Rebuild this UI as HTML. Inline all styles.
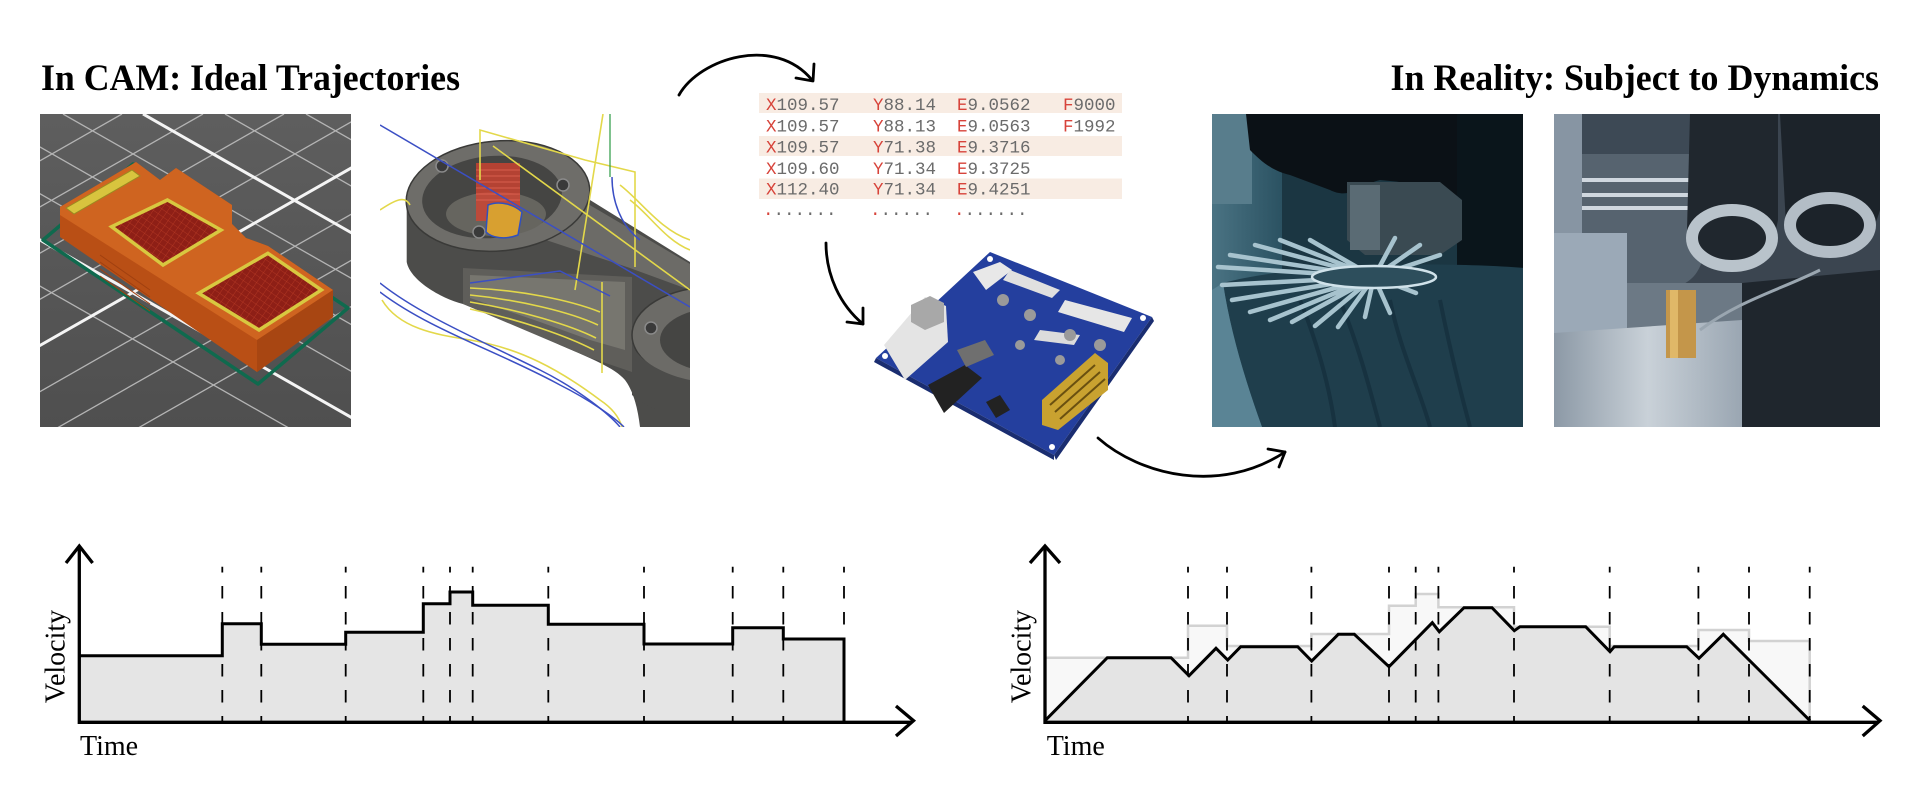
<!DOCTYPE html>
<html><head><meta charset="utf-8"><style>html,body{margin:0;padding:0;background:#fff}svg{display:block}</style></head>
<body>
<svg width="1920" height="801" viewBox="0 0 1920 801" xmlns="http://www.w3.org/2000/svg">
<defs>
<clipPath id="c1"><rect x="40" y="114" width="311" height="313"/></clipPath>
<clipPath id="c2"><rect x="380" y="114" width="310" height="313"/></clipPath>
<clipPath id="c3"><rect x="1212" y="114" width="311" height="313"/></clipPath>
<clipPath id="c4"><rect x="1554" y="114" width="326" height="313"/></clipPath>
<linearGradient id="g1" x1="0" y1="0" x2="0" y2="1"><stop offset="0" stop-color="#5e5e5e"/><stop offset="1" stop-color="#4f4f4f"/></linearGradient>
<linearGradient id="g3" x1="0" y1="0" x2="1" y2="0"><stop offset="0" stop-color="#4a7383"/><stop offset="1" stop-color="#2b5262"/></linearGradient>
<linearGradient id="g4" x1="0" y1="0" x2="1" y2="0"><stop offset="0" stop-color="#8c99a6"/><stop offset="0.5" stop-color="#c9d1d8"/><stop offset="1" stop-color="#9aa6b2"/></linearGradient>
<pattern id="hatch" width="6" height="6" patternUnits="userSpaceOnUse" patternTransform="rotate(35)"><rect width="6" height="6" fill="#8e1f16"/><path d="M0,0H6M0,0V6" stroke="#b83a25" stroke-width="0.8"/></pattern>
</defs>
<rect width="1920" height="801" fill="#fff"/>

<!-- Titles -->
<text x="41" y="90" font-family="Liberation Serif, serif" font-weight="bold" font-size="37.5" textLength="419" lengthAdjust="spacingAndGlyphs" fill="#000">In CAM: Ideal Trajectories</text>
<text x="1390.5" y="90" font-family="Liberation Serif, serif" font-weight="bold" font-size="37.5" textLength="488.5" lengthAdjust="spacingAndGlyphs" fill="#000">In Reality: Subject to Dynamics</text>

<!-- Photo 1: slicer -->
<g clip-path="url(#c1)">
<rect x="40" y="114" width="311" height="313" fill="url(#g1)"/>
<g stroke="#b4b4b4" stroke-width="1.3" fill="none">
<path d="M-262,114l600,342M-18,114l600,342M63,114l600,342M225,114l600,342M306,114l600,342M-100,114l600,342"/>
<path d="M122,114l-600,342M203,114l-600,342M284,114l-600,342M365,114l-600,342M527,114l-600,342M608,114l-600,342M689,114l-600,342"/>
</g>
<g stroke="#f4f4f4" stroke-width="3" fill="none">
<path d="M143,114l600,342M-181,114l600,342M446,114l-600,342"/>
</g>
<polygon points="43,240 133,164 348,308 258,384" fill="none" stroke="#0f6a4e" stroke-width="3.5" stroke-linejoin="round"/>
<polygon points="60,207 136,162 160,180 176,168 232,205 232,224 246,238 268,246 333,290 333,317 257,372 60,237" fill="#b94f15"/>
<polygon points="60,207 136,162 160,180 176,168 232,205 232,224 246,238 268,246 333,290 257,340 60,215" fill="#cf6420"/>
<polygon points="257,340 333,290 333,317 257,372" fill="#a84612"/>
<polygon points="66,208 132,170 140,176 74,214" fill="#d8c43e" stroke="#9a8a20" stroke-width="1"/>
<polygon points="111.6,226.7 167.4,200 221,230 163,265" fill="url(#hatch)" stroke="#d8c840" stroke-width="3.5"/>
<polygon points="198.7,293.3 267.9,253.3 321.4,290 259,330" fill="url(#hatch)" stroke="#d8c840" stroke-width="3.5"/>
<g stroke="#a04010" stroke-width="1"><path d="M100,255l50,35M100,262l50,35M100,269l50,35M100,276l50,35"/></g>
</g>

<!-- Photo 2: CAM toolpath -->
<g clip-path="url(#c2)">
<rect x="380" y="114" width="310" height="313" fill="#fff"/>
<path d="M406.7,200 L406.7,262 C410,280 440,298 463,304 C500,318 530,330 560,345 C590,358 615,368 625,380 C634,392 638,410 640,427 L690,427 L690,262 L590,200 Z" fill="#4c4c4a"/>
<polygon points="463,268 632,277 632,372 588,357 541,337 463,304" fill="#5f5e5a"/>
<polygon points="470,275 625,282 625,350 590,340 540,322 470,298" fill="#77766f"/>
<polygon points="540,238 588,204 690,264 690,290 630,268" fill="#6c6b67"/>
<ellipse cx="498" cy="196" rx="92" ry="55" transform="rotate(-5 498 196)" fill="#6e6d69" stroke="#3a3a38" stroke-width="1.5"/>
<ellipse cx="492" cy="197" rx="70" ry="41" transform="rotate(-5 492 197)" fill="#454543"/>
<ellipse cx="496" cy="214" rx="50" ry="22" fill="#66655f"/>
<ellipse cx="712" cy="335" rx="80" ry="48" fill="#6c6b67" stroke="#3a3a38" stroke-width="1.5"/>
<ellipse cx="718" cy="340" rx="58" ry="32" fill="#454543"/>
<path d="M632,345 L632,395 C650,410 670,415 690,418 L690,380 C665,375 640,362 632,345Z" fill="#4c4c4a"/>
<circle cx="442" cy="166" r="6" fill="#3a3a3a" stroke="#8a8a8a" stroke-width="1.5"/>
<circle cx="563" cy="185" r="6" fill="#3a3a3a" stroke="#8a8a8a" stroke-width="1.5"/>
<circle cx="479" cy="232" r="6" fill="#3a3a3a" stroke="#8a8a8a" stroke-width="1.5"/>
<circle cx="651" cy="328" r="6" fill="#3a3a3a" stroke="#8a8a8a" stroke-width="1.5"/>
<rect x="476" y="163" width="44" height="58" fill="#d9412d" opacity="0.75"/>
<g stroke="#f07060" stroke-width="0.8" opacity="0.8"><path d="M476,170h44M476,176h44M476,182h44M476,188h44M476,194h44M476,200h44"/></g>
<path d="M488,205 C500,200 515,205 522,212 L518,235 C505,240 492,238 486,232Z" fill="#d8a030" stroke="#3050c0" stroke-width="1.5"/>
<g fill="none" stroke="#e3d84a" stroke-width="1.6">
<path d="M480,180 V130 L585,160 L635,172 V267"/>
<path d="M493,146 L690,290"/>
<path d="M603,114 L575,290"/>
<path d="M602,282 V373"/>
<path d="M380,210 C395,200 405,195 410,205"/>
<path d="M470,288 C520,290 570,300 600,312 M470,295 C520,300 570,312 598,325 M470,302 C520,310 570,325 596,338 M470,309 C520,320 565,335 594,350"/>
<path d="M620,185 C640,200 660,230 690,240 M630,200 C650,215 665,240 690,250"/>
<path d="M382,300 C400,330 440,335 470,340 C520,348 560,370 600,400 C615,410 620,420 622,427"/>
</g>
<g fill="none" stroke="#3b4fc4" stroke-width="1.5">
<path d="M380,125 L690,307"/>
<path d="M380,283 C420,315 480,340 540,370 C580,390 610,415 620,427"/>
<path d="M380,292 C430,330 500,352 560,385 C590,400 615,418 624,427"/>
<path d="M470,283 L560,271 L610,296"/>
<path d="M612,177 C612,200 620,225 640,240"/>
</g>
<path d="M610,114 V177" stroke="#3aa050" stroke-width="1.3"/>
</g>

<!-- Arrows -->
<g fill="none" stroke="#000" stroke-width="2.8" stroke-linecap="round" stroke-linejoin="round">
<path d="M679,95 C700,58 775,35 812,80"/>
<path d="M796,78 L813,81 L814,64"/>
<path d="M826,243 C826,275 840,305 863,324"/>
<path d="M847,322 L863,324 L863,308"/>
<path d="M1098,438 C1140,475 1220,495 1285,452"/>
<path d="M1268,449 L1285,452 L1279,467"/>
</g>

<!-- G-code table -->
<rect x="759" y="93" width="363" height="20" fill="#f8ece3"/>
<rect x="759" y="136" width="363" height="20" fill="#f8ece3"/>
<rect x="759" y="178.5" width="363" height="20.5" fill="#f8ece3"/>
<g font-family="Liberation Mono, monospace" font-size="17.5" fill="#6b6b6b">
<text x="766" y="110"><tspan fill="#d7433a">X</tspan>109.57</text>
<text x="873" y="110"><tspan fill="#d7433a">Y</tspan>88.14</text>
<text x="957" y="110"><tspan fill="#d7433a">E</tspan>9.0562</text>
<text x="1063" y="110"><tspan fill="#d7433a">F</tspan>9000</text>
<text x="766" y="131.3"><tspan fill="#d7433a">X</tspan>109.57</text>
<text x="873" y="131.3"><tspan fill="#d7433a">Y</tspan>88.13</text>
<text x="957" y="131.3"><tspan fill="#d7433a">E</tspan>9.0563</text>
<text x="1063" y="131.3"><tspan fill="#d7433a">F</tspan>1992</text>
<text x="766" y="152.7"><tspan fill="#d7433a">X</tspan>109.57</text>
<text x="873" y="152.7"><tspan fill="#d7433a">Y</tspan>71.38</text>
<text x="957" y="152.7"><tspan fill="#d7433a">E</tspan>9.3716</text>
<text x="766" y="174"><tspan fill="#d7433a">X</tspan>109.60</text>
<text x="873" y="174"><tspan fill="#d7433a">Y</tspan>71.34</text>
<text x="957" y="174"><tspan fill="#d7433a">E</tspan>9.3725</text>
<text x="766" y="194.3"><tspan fill="#d7433a">X</tspan>112.40</text>
<text x="873" y="194.3"><tspan fill="#d7433a">Y</tspan>71.34</text>
<text x="957" y="194.3"><tspan fill="#d7433a">E</tspan>9.4251</text>
<text x="763" y="215"><tspan fill="#d7433a">.</tspan>......</text>
<text x="870" y="215"><tspan fill="#d7433a">.</tspan>.....</text>
<text x="954" y="215"><tspan fill="#d7433a">.</tspan>......</text>
</g>

<!-- Circuit board -->
<g>
<polygon points="876,358 990,252 1152,317 1054,455" fill="#243f9e"/>
<polygon points="876,358 1054,455 1054,460 874,362" fill="#1a2d70"/>
<polygon points="1054,455 1152,317 1154,321 1056,460" fill="#1a2d70"/>
<polygon points="884,345 925,297 946,306 948,342 905,380" fill="#e4e4e4"/>
<polygon points="911,305 930,296 944,303 944,322 925,330 911,322" fill="#a8a8a8"/>
<polygon points="973,272 1000,262 1012,270 986,290" fill="#e8e8e8"/>
<polygon points="1010,270 1060,290 1052,298 1003,280" fill="#e0e0e0"/>
<polygon points="1065,300 1132,318 1124,332 1058,312" fill="#e6e6e6"/>
<polygon points="1040,330 1080,335 1074,345 1034,340" fill="#dcdcdc"/>
<polygon points="1042,400 1095,353 1108,363 1108,390 1058,430 1042,425" fill="#c9a230"/>
<g stroke="#6a5010" stroke-width="2"><path d="M1050,405l45,-40M1055,412l45,-40M1060,419l45,-40"/></g>
<polygon points="928,385 965,365 982,378 944,413" fill="#222"/>
<polygon points="957,350 985,340 994,355 966,367" fill="#6f6f6f"/>
<polygon points="986,402 1000,395 1010,410 996,418" fill="#222"/>
<g fill="#9a9a9a"><circle cx="1003" cy="300" r="6"/><circle cx="1030" cy="315" r="6"/><circle cx="1070" cy="335" r="6"/><circle cx="1100" cy="345" r="6"/><circle cx="1060" cy="360" r="5"/><circle cx="1020" cy="345" r="5"/></g>
<g fill="#fff"><circle cx="885" cy="356" r="3"/><circle cx="990" cy="259" r="3"/><circle cx="1143" cy="318" r="3"/><circle cx="1052" cy="447" r="3"/></g>
</g>

<!-- Photo 3: turbine -->
<g clip-path="url(#c3)">
<rect x="1212" y="114" width="311" height="313" fill="#1b3642"/>
<rect x="1212" y="114" width="70" height="313" fill="url(#g3)"/>
<rect x="1212" y="114" width="40" height="90" fill="#587d8c"/>
<path d="M1246,114 H1524 V200 L1480,215 C1460,220 1450,190 1430,185 L1380,180 C1360,185 1350,200 1330,190 L1290,175 C1270,170 1260,160 1250,150 Z" fill="#0b1116"/>
<rect x="1457" y="114" width="67" height="200" fill="#0a151b"/>
<polygon points="1347,182 1440,182 1462,200 1462,240 1440,255 1365,255 1347,240" fill="#3a4a52"/>
<rect x="1350" y="185" width="30" height="65" fill="#5a6b74"/>
<path d="M1223,283 C1300,262 1450,262 1524,268 V427 H1262 C1245,380 1230,330 1223,283 Z" fill="#1f3e4c"/>
<path d="M1212,290 L1223,283 C1230,330 1245,380 1262,427 H1212 Z" fill="#5a8495"/>
<g stroke="#173240" stroke-width="4" fill="none"><path d="M1300,300 C1320,350 1330,390 1335,427M1340,300 C1360,350 1370,390 1380,427M1390,300 C1400,350 1420,390 1430,427M1440,300 C1450,350 1460,390 1470,427"/></g>
<g stroke="#a7c3ce" stroke-width="4.5" stroke-linecap="round">
<path d="M1374,277 L1218,267M1374,277 L1222,285M1374,277 L1232,300M1374,277 L1250,312M1374,277 L1270,320M1374,277 L1292,322M1374,277 L1315,326M1374,277 L1338,327M1374,277 L1365,317M1374,277 L1390,313M1374,277 L1416,293"/>
<path d="M1374,277 L1230,255M1374,277 L1255,245M1374,277 L1280,240M1374,277 L1310,240M1374,277 L1395,238M1374,277 L1420,245M1374,277 L1440,255"/>
</g>
<ellipse cx="1374" cy="277" rx="62" ry="11" fill="#2d4e5c" stroke="#d0e2ea" stroke-width="2.5"/>
</g>

<!-- Photo 4: milling -->
<g clip-path="url(#c4)">
<rect x="1554" y="114" width="326" height="313" fill="#3b4550"/>
<path d="M1554,114 H1705 V250 C1700,275 1690,287 1660,290 H1620 C1600,288 1590,270 1585,250 L1554,240 Z" fill="#56636f"/>
<rect x="1554" y="114" width="28" height="130" fill="#8795a3"/>
<rect x="1582" y="114" width="120" height="40" fill="#3d4955"/>
<g stroke="#cfd7df" stroke-width="4"><path d="M1582,180H1690M1582,195H1690M1582,208H1690"/></g>
<path d="M1690,114 H1778 V220 C1772,255 1748,270 1722,268 C1702,265 1689,250 1687,230 Z" fill="#20272e"/>
<ellipse cx="1732" cy="238" rx="40" ry="28" fill="none" stroke="#b9c3cb" stroke-width="12"/>
<path d="M1780,114 H1880 V210 C1870,245 1850,258 1825,256 C1805,254 1790,240 1786,225 Z" fill="#1c232a"/>
<ellipse cx="1830" cy="225" rx="40" ry="27" fill="none" stroke="#b3bdc6" stroke-width="12"/>
<rect x="1554" y="233" width="73" height="100" fill="#9ba9b7"/>
<rect x="1627" y="283" width="115" height="45" fill="#6c7985"/>
<polygon points="1554,333 1742,320 1742,427 1554,427" fill="url(#g4)"/>
<polygon points="1742,283 1880,270 1880,427 1742,427" fill="#1f262d"/>
<path d="M1700,330 C1740,300 1780,290 1820,270" stroke="#9aa6b0" stroke-width="3" fill="none"/>
<rect x="1666" y="290" width="30" height="68" fill="#c4964a"/>
<rect x="1670" y="290" width="8" height="68" fill="#e0b868"/>
</g>

<!-- LEFT GRAPH -->
<path d="M79.3,721 V655.7 H222.3 V623.7 H261.3 V644.3 H345.7 V632.3 H423.3 V603.7 H450 V592 H472.7 V605.3 H548.3 V624.3 H644 V644 H732.7 V627.7 H783.3 V639 H844 V721 Z" fill="#e5e5e5"/>
<g stroke="#000" stroke-width="1.8" stroke-dasharray="12.5 13.5" stroke-dashoffset="6.7">
<path d="M222.3,566.7V721M261.3,566.7V721M345.7,566.7V721M423.3,566.7V721M450,566.7V721M472.7,566.7V721M548.3,566.7V721M644,566.7V721M732.7,566.7V721M783.3,566.7V721M844,566.7V721"/>
</g>
<path d="M79.3,655.7 H222.3 V623.7 H261.3 V644.3 H345.7 V632.3 H423.3 V603.7 H450 V592 H472.7 V605.3 H548.3 V624.3 H644 V644 H732.7 V627.7 H783.3 V639 H844 V721" fill="none" stroke="#000" stroke-width="3"/>
<g fill="none" stroke="#000" stroke-width="3.3">
<path d="M79.3,547 V722.3 H912"/>
<path d="M66,563 L79.3,546 L92.6,563"/>
<path d="M896,706 L913.5,720.7 L896,736"/>
</g>
<text transform="translate(64.5,656.5) rotate(-90)" text-anchor="middle" font-family="Liberation Serif, serif" font-size="28" fill="#000">Velocity</text>
<text x="80" y="755" font-family="Liberation Serif, serif" font-size="28" fill="#000">Time</text>

<!-- RIGHT GRAPH -->
<path d="M1045,721 V657.7 H1188 V625.7 H1227 V646 H1311.4 V634 H1389 V605.7 H1415.7 V594 H1438.4 V607.3 H1514 V626.7 H1609.7 V646 H1698.4 V630 H1749 V641 H1809.7 V721 Z" fill="#f8f8f8" stroke="#d2d2d2" stroke-width="2.5"/>
<polygon points="1045,720.7 1107.3,657.7 1171,657.7 1189,675.7 1216,648.3 1227.7,660 1240.7,646.7 1297.7,646.7 1311.7,661 1338.3,634.3 1354.3,634.3 1389,666.7 1432.3,622.7 1439.3,631.7 1464,607.7 1492,607.7 1514.3,630.7 1520,626.7 1585.7,626.7 1610,651.7 1614.3,646.7 1686.7,646.7 1699,658.3 1723.3,634.3 1810,720.7" fill="#e4e4e4"/>
<g stroke="#000" stroke-width="1.8" stroke-dasharray="12.5 13.5" stroke-dashoffset="6.7">
<path d="M1188,566.7V721M1227,566.7V721M1311.4,566.7V721M1389,566.7V721M1415.7,566.7V721M1438.4,566.7V721M1514,566.7V721M1609.7,566.7V721M1698.4,566.7V721M1749,566.7V721M1809.7,566.7V721"/>
</g>
<polyline points="1045,720.7 1107.3,657.7 1171,657.7 1189,675.7 1216,648.3 1227.7,660 1240.7,646.7 1297.7,646.7 1311.7,661 1338.3,634.3 1354.3,634.3 1389,666.7 1432.3,622.7 1439.3,631.7 1464,607.7 1492,607.7 1514.3,630.7 1520,626.7 1585.7,626.7 1610,651.7 1614.3,646.7 1686.7,646.7 1699,658.3 1723.3,634.3 1810,720.7" fill="none" stroke="#000" stroke-width="3" stroke-linejoin="miter"/>
<g fill="none" stroke="#000" stroke-width="3.3">
<path d="M1045,547 V722.3 H1878"/>
<path d="M1030,563 L1045,546 L1060,563"/>
<path d="M1862.7,706 L1880,720.7 L1862.7,736"/>
</g>
<text transform="translate(1030.5,656.5) rotate(-90)" text-anchor="middle" font-family="Liberation Serif, serif" font-size="28" fill="#000">Velocity</text>
<text x="1046.7" y="755" font-family="Liberation Serif, serif" font-size="28" fill="#000">Time</text>
</svg>
</body></html>
